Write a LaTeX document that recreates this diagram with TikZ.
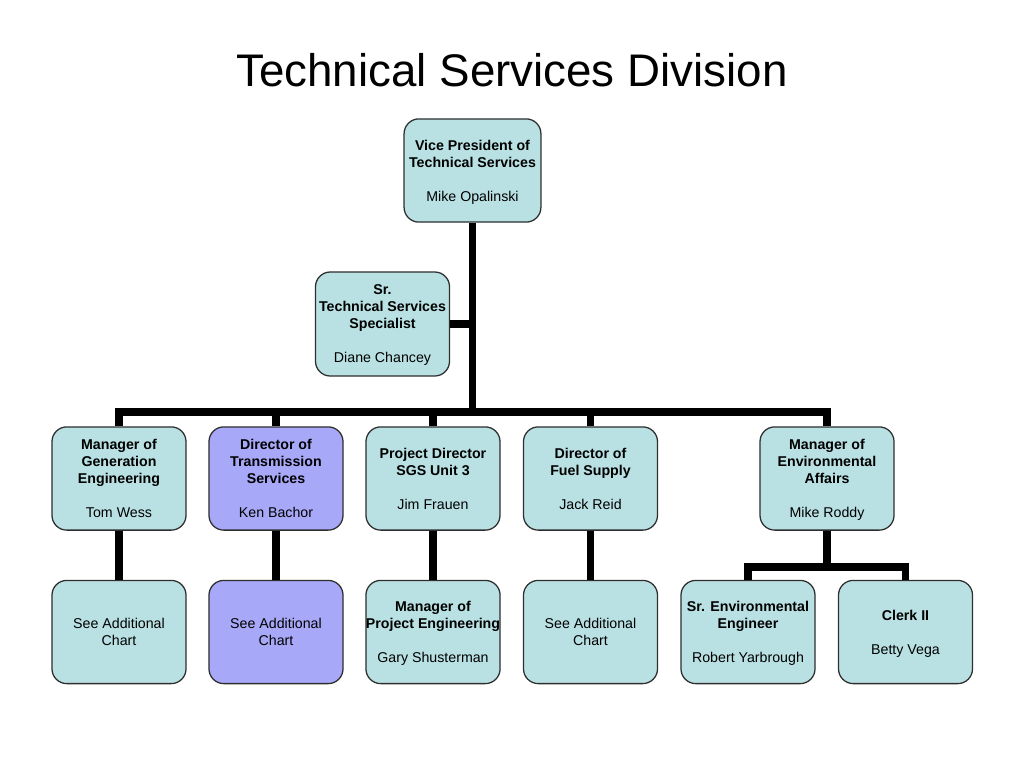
\documentclass[tikz,border=0pt]{standalone}
\usepackage{fontspec}
\setmainfont{Liberation Sans}
\usepackage{tikz}
\usetikzlibrary{positioning,calc}
\definecolor{boxteal}{HTML}{B9E1E3}
\definecolor{boxlila}{HTML}{A8A8F8}
\definecolor{boxedge}{HTML}{2E2E2E}
\tikzset{
  orgbox/.style={rectangle, rounded corners=0.37cm, draw=boxedge, line width=0.9pt, fill=#1,
                 align=center, font=\fontsize{10.1}{12.1}\selectfont, inner xsep=0pt,
                 inner ysep=1pt, text depth=0pt,
                 minimum width=3.35cm, minimum height=2.58cm},
  orgbox/.default=boxteal,
  link/.style={line width=5pt, draw=black, line join=miter},
}
\begin{document}
\begin{tikzpicture}[x=0.025cm, y=-0.025cm]
    \useasboundingbox (0,0) rectangle (1024,768);
    \node[font=\fontsize{32.5}{38}\selectfont, anchor=base] (title) at (512,87) {Technical Services Division};
    % top
    \node[orgbox, minimum width=3.42cm] (vp) at (472.5,170.5) {\textbf{Vice President of}\\\textbf{Technical Services}\\[12.1pt]Mike Opalinski};
    \node[orgbox, minimum height=2.6cm] (spec) at (382.5,324) {\textbf{Sr.}\\\textbf{Technical Services}\\\textbf{Specialist}\\[12.1pt]Diane Chancey};
    % first row
    \node[orgbox] (gen) at (119,478.5) {\textbf{Manager of}\\\textbf{Generation}\\\textbf{Engineering}\\[12.1pt]Tom Wess};
    \node[orgbox=boxlila] (trans) at (276,478.5) {\textbf{Director of}\\\textbf{Transmission}\\\textbf{Services}\\[12.1pt]Ken Bachor};
    \node[orgbox] (proj) at (433,478.5) {\textbf{Project Director}\\\textbf{SGS Unit 3}\\[12.1pt]Jim Frauen};
    \node[orgbox] (fuel) at (590.5,478.5) {\textbf{Director of}\\\textbf{Fuel Supply}\\[12.1pt]Jack Reid};
    \node[orgbox] (env) at (827,478.5) {\textbf{Manager of}\\\textbf{Environmental}\\\textbf{Affairs}\\[12.1pt]Mike Roddy};
    % second row
    \node[orgbox] (genc) at (119,632) {See Additional\\Chart};
    \node[orgbox=boxlila] (transc) at (276,632) {See Additional\\Chart};
    \node[orgbox] (projc) at (433,632) {\textbf{Manager of}\\\textbf{Project Engineering}\\[12.1pt]Gary Shusterman};
    \node[orgbox] (fuelc) at (590.5,632) {See Additional\\Chart};
    \node[orgbox] (seng) at (748,632) {\textbf{Sr. Environmental}\\\textbf{Engineer}\\[12.1pt]Robert Yarbrough};
    \node[orgbox] (clerk) at (905.5,632) {\textbf{Clerk II}\\[12.1pt]Betty Vega};
    % connectors
    \coordinate (bus) at (472.5,412);
    \coordinate (envbar) at (827,567);
    \draw[link] (vp.south) -- (bus);
    \draw[link] (spec.east) -- (spec.east -| vp.south);
    \draw[link] (gen.north) |- (bus) -| (env.north);
    \foreach \n in {trans,proj,fuel}
      \draw[link] (\n.north) -- (\n.north |- bus);
    \foreach \a/\b in {gen/genc,trans/transc,proj/projc,fuel/fuelc}
      \draw[link] (\a.south) -- (\b.north);
    \draw[link] (env.south) -- (envbar);
    \draw[link] (seng.north) |- (envbar) -| (clerk.north);
\end{tikzpicture}
\end{document}
